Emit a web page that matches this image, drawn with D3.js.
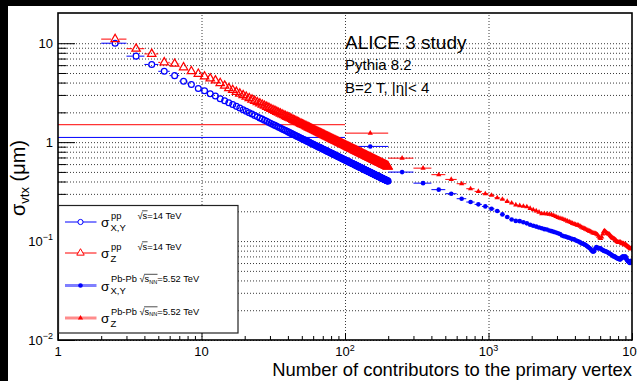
<!DOCTYPE html>
<html>
<head>
<meta charset="utf-8">
<script src="https://cdn.jsdelivr.net/npm/d3@7"></script>
<style>
  html, body { margin: 0; padding: 0; background: #000; }
  svg { display: block; font-family: "Liberation Sans", Arial, Helvetica, sans-serif; }
</style>
</head>
<body>
<svg id="chart" width="637" height="381"></svg>
<script>
// ---- data -------------------------------------------------------------
// pp: integer multiplicity bins [n, n+1), n = 2..199, points at the bin centre
const ppCenters = d3.range(2.5, 200, 1);
const ppSigmaXY = [
  10.0, 7.4, 6.1, 5.2, 4.7, 4.13, 3.83, 3.49, 3.31, 3.08, 2.92, 2.74, 2.62,
  2.507, 2.398, 2.299, 2.210, 2.128, 2.053, 1.985, 1.921, 1.863, 1.808,
  1.757, 1.709, 1.665, 1.623, 1.583, 1.546, 1.510, 1.477, 1.445, 1.415,
  1.387, 1.360, 1.334, 1.308, 1.285, 1.262, 1.240, 1.219, 1.199, 1.180,
  1.161, 1.143, 1.126, 1.109, 1.094, 1.078, 1.063, 1.048, 1.034, 1.021,
  1.007, 0.995, 0.982, 0.970, 0.958, 0.947, 0.936, 0.925, 0.915, 0.905,
  0.895, 0.885, 0.876, 0.867, 0.858, 0.849, 0.841, 0.833, 0.824, 0.816,
  0.809, 0.801, 0.794, 0.786, 0.779, 0.772, 0.765, 0.759, 0.752, 0.746,
  0.740, 0.734, 0.728, 0.722, 0.716, 0.710, 0.705, 0.699, 0.694, 0.688,
  0.683, 0.678, 0.673, 0.668, 0.664, 0.659, 0.654, 0.650, 0.645, 0.641,
  0.636, 0.632, 0.628, 0.624, 0.620, 0.616, 0.612, 0.608, 0.604, 0.600,
  0.596, 0.593, 0.589, 0.586, 0.582, 0.579, 0.575, 0.572, 0.569, 0.565,
  0.562, 0.559, 0.556, 0.553, 0.550, 0.547, 0.544, 0.541, 0.538, 0.535,
  0.532, 0.529, 0.527, 0.524, 0.521, 0.519, 0.516, 0.513, 0.511, 0.508,
  0.506, 0.503, 0.501, 0.498, 0.496, 0.494, 0.491, 0.489, 0.487, 0.484,
  0.482, 0.480, 0.478, 0.476, 0.473, 0.471, 0.469, 0.467, 0.465, 0.463,
  0.461, 0.459, 0.457, 0.455, 0.453, 0.452, 0.450, 0.448, 0.446, 0.444,
  0.442, 0.441, 0.439, 0.437, 0.435, 0.434, 0.432, 0.430, 0.428, 0.427,
  0.425, 0.423, 0.422, 0.420, 0.419, 0.417, 0.416, 0.414, 0.412, 0.411,
  0.409, 0.408, 0.406, 0.405, 0.404
];
const ppSigmaZ = [
  11.0, 8.8, 7.8, 6.4, 6.2, 5.7, 5.2, 4.9, 4.6, 4.4, 4.2, 3.95, 3.72,
  3.51, 3.36, 3.22, 3.09, 2.98, 2.87, 2.78, 2.69, 2.61, 2.53,
  2.46, 2.39, 2.33, 2.27, 2.22, 2.16, 2.11, 2.07, 2.02, 1.98,
  1.94, 1.90, 1.87, 1.83, 1.80, 1.77, 1.74, 1.71, 1.68, 1.65,
  1.63, 1.60, 1.58, 1.55, 1.53, 1.51, 1.49, 1.47, 1.45, 1.43,
  1.41, 1.393, 1.375, 1.358, 1.341, 1.326, 1.310, 1.295, 1.281, 1.267,
  1.253, 1.239, 1.226, 1.214, 1.201, 1.189, 1.177, 1.166, 1.154, 1.142,
  1.133, 1.121, 1.112, 1.100, 1.091, 1.081, 1.071, 1.063, 1.053, 1.044,
  1.036, 1.028, 1.019, 1.011, 1.002, 0.994, 0.987, 0.979, 0.972, 0.963,
  0.956, 0.949, 0.942, 0.935, 0.930, 0.923, 0.916, 0.910, 0.903, 0.897,
  0.890, 0.885, 0.879, 0.874, 0.868, 0.862, 0.857, 0.851, 0.846, 0.840,
  0.834, 0.830, 0.825, 0.820, 0.815, 0.811, 0.805, 0.801, 0.797, 0.791,
  0.787, 0.783, 0.778, 0.774, 0.770, 0.766, 0.762, 0.757, 0.753, 0.749,
  0.745, 0.741, 0.738, 0.734, 0.729, 0.727, 0.722, 0.718, 0.715, 0.711,
  0.708, 0.704, 0.701, 0.697, 0.694, 0.692, 0.687, 0.685, 0.682, 0.678,
  0.675, 0.672, 0.669, 0.666, 0.662, 0.659, 0.657, 0.654, 0.651, 0.648,
  0.645, 0.643, 0.640, 0.637, 0.634, 0.633, 0.630, 0.627, 0.624, 0.622,
  0.619, 0.617, 0.615, 0.612, 0.609, 0.608, 0.605, 0.602, 0.599, 0.598,
  0.595, 0.592, 0.591, 0.588, 0.587, 0.584, 0.582, 0.580, 0.577, 0.575,
  0.573, 0.571, 0.568, 0.567, 0.566
];

// Pb-Pb: bins of width 100 in multiplicity, points at the bin centre
const pbCenters = d3.range(50, 10000, 100);
const pbHalfWidth = 50;
const pbSigmaXY = [
  1.116,
  0.905, 0.498, 0.385, 0.331, 0.301, 0.268, 0.248, 0.235, 0.224,
  0.212, 0.201, 0.186, 0.175, 0.165, 0.160, 0.159, 0.155, 0.151, 0.146,
  0.143, 0.140, 0.137, 0.135, 0.132, 0.131, 0.128, 0.126, 0.124, 0.122,
  0.120, 0.118, 0.114, 0.112, 0.111, 0.109, 0.108, 0.106, 0.105, 0.104,
  0.102, 0.100, 0.099, 0.097, 0.095, 0.094, 0.093, 0.091, 0.089, 0.087,
  0.085, 0.083, 0.080, 0.078, 0.079, 0.084, 0.087, 0.085, 0.084, 0.085,
  0.084, 0.082, 0.081, 0.080, 0.079, 0.079, 0.078, 0.077, 0.076, 0.075,
  0.074, 0.073, 0.072, 0.071, 0.070, 0.070, 0.069, 0.068, 0.067, 0.067,
  0.066, 0.066, 0.065, 0.066, 0.068, 0.069, 0.070, 0.069, 0.068, 0.070,
  0.069, 0.066, 0.064, 0.063, 0.062, 0.061, 0.060, 0.061, 0.063, 0.062
];
const pbSigmaZ = [
  1.5,
  1.233, 0.689, 0.546, 0.469, 0.420, 0.380, 0.338, 0.318, 0.301,
  0.290, 0.274, 0.265, 0.252, 0.242, 0.232, 0.228, 0.225, 0.222, 0.214,
  0.207, 0.202, 0.196, 0.189, 0.190, 0.188, 0.187, 0.185, 0.181, 0.177,
  0.173, 0.170, 0.168, 0.165, 0.162, 0.159, 0.157, 0.154, 0.151, 0.149,
  0.147, 0.145, 0.144, 0.141, 0.138, 0.136, 0.134, 0.132, 0.130, 0.128,
  0.126, 0.125, 0.123, 0.121, 0.120, 0.119, 0.118, 0.116, 0.112, 0.108,
  0.106, 0.110, 0.118, 0.125, 0.127, 0.124, 0.121, 0.119, 0.118, 0.117,
  0.114, 0.111, 0.109, 0.107, 0.106, 0.105, 0.103, 0.101, 0.099, 0.098,
  0.097, 0.097, 0.098, 0.097, 0.095, 0.094, 0.095, 0.094, 0.092, 0.093,
  0.092, 0.090, 0.089, 0.088, 0.087, 0.086, 0.085, 0.084, 0.083, 0.085
];

// axis tick labels: [mantissa, exponent]
const xMajorTicks = [1, 10, 100, 1000, 10000];
const xTickLabels = [["1", ""], ["10", ""], ["10", "2"], ["10", "3"], ["10", "4"]];
const yMajorTicks = [0.01, 0.1, 1, 10];
const yTickLabels = [["10", "\u22122"], ["10", "\u22121"], ["1", ""], ["10", ""]];

const titleLines = ["ALICE 3 study", "Pythia 8.2", "B=2 T, |\u03b7|< 4"];
const xTitle = "Number of contributors to the primary vertex";

// ---- layout -----------------------------------------------------------
const frame = { left: 58, right: 632, top: 13, bottom: 340 };
const BLUE = "#0000ff", RED = "#ff0000";

const svg = d3.select("#chart");
svg.append("rect").attr("x", 8).attr("y", 6).attr("width", 629).attr("height", 375).attr("fill", "#fff");

const x = d3.scaleLog().domain([1, 1e4]).range([frame.left, frame.right]);
const y = d3.scaleLog().domain([0.01, 20.2]).range([frame.bottom, frame.top]);

const fw = frame.right - frame.left, fh = frame.bottom - frame.top;

// minor tick values (2..9 per decade) for decades 10^loExp .. 10^hiExp
function minorsLog(loExp, hiExp) {
  const out = [];
  for (let e = loExp; e <= hiExp; e++) for (let k = 2; k <= 9; k++) out.push(k * Math.pow(10, e));
  return out;
}
const yMinor = minorsLog(-2, 0);        // 0.02..9
const yGridVals = yMajorTicks.concat(yMinor);
const xMinor = minorsLog(0, 3);         // 2..9000

// ---- grid -------------------------------------------------------------
const gridH = svg.append("g").attr("transform", `translate(${frame.left},0)`)
  .call(d3.axisLeft(y).tickValues(yGridVals).tickSize(-fw).tickFormat(""));
gridH.select(".domain").remove();
gridH.selectAll("line").attr("stroke", "#3a3a3a").attr("stroke-dasharray", "1,2");

const gridV = svg.append("g").attr("transform", `translate(0,${frame.bottom})`)
  .call(d3.axisBottom(x).tickValues([10, 100, 1000]).tickSize(-fh).tickFormat(""));
gridV.select(".domain").remove();
gridV.selectAll("line").attr("stroke", "#3a3a3a").attr("stroke-dasharray", "1,2");

// ---- axis ticks -------------------------------------------------------
function tickGroup(axis, tr) {
  const g = svg.append("g").attr("transform", tr).call(axis);
  g.select(".domain").remove();
  g.selectAll("line").attr("stroke", "#000").attr("stroke-width", 1);
  return g;
}
tickGroup(d3.axisLeft(y).tickValues(yMajorTicks).tickSize(-17).tickFormat(""), `translate(${frame.left},0)`);
tickGroup(d3.axisLeft(y).tickValues(yMinor).tickSize(-8.6).tickFormat(""), `translate(${frame.left},0)`);
tickGroup(d3.axisBottom(x).tickValues(xMajorTicks).tickSize(-7).tickFormat(""), `translate(0,${frame.bottom})`);
tickGroup(d3.axisBottom(x).tickValues(xMinor).tickSize(-4).tickFormat(""), `translate(0,${frame.bottom})`);

// tick labels with superscript exponents
yMajorTicks.forEach((v, i) => {
  const t = svg.append("text").attr("x", 53).attr("y", y(v) + 4.6)
    .attr("text-anchor", "end").attr("font-size", 13).attr("fill", "#000");
  t.append("tspan").text(yTickLabels[i][0]);
  if (yTickLabels[i][1]) t.append("tspan").attr("font-size", 9).attr("dy", -5.5).text(yTickLabels[i][1]);
});
xMajorTicks.forEach((v, i) => {
  const t = svg.append("text").attr("x", x(v)).attr("y", 356)
    .attr("text-anchor", "middle").attr("font-size", 13).attr("fill", "#000");
  t.append("tspan").text(xTickLabels[i][0]);
  if (xTickLabels[i][1]) t.append("tspan").attr("font-size", 9).attr("dy", -5).text(xTickLabels[i][1]);
});

// ---- data -------------------------------------------------------------
svg.append("defs").append("clipPath").attr("id", "plotClip")
  .append("rect").attr("x", frame.left).attr("y", frame.top).attr("width", fw).attr("height", fh);
const plot = svg.append("g").attr("clip-path", "url(#plotClip)");

const triBig = d3.symbol().type(d3.symbolTriangle).size(30);
const triSmall = d3.symbol().type(d3.symbolTriangle).size(12);

// Pb-Pb: horizontal bin-width bars plus filled markers
function drawPbPb(values, color, kind) {
  const g = plot.append("g");
  const pts = pbCenters.map((c, i) => ({ c, v: values[i] }));
  g.selectAll("line").data(pts).join("line")
    .attr("x1", d => x(Math.max(d.c - pbHalfWidth, 1)))
    .attr("x2", d => x(d.c + pbHalfWidth))
    .attr("y1", d => y(d.v)).attr("y2", d => y(d.v))
    .attr("stroke", color).attr("stroke-width", 1);
  if (kind === "circle") {
    g.selectAll("circle").data(pts).join("circle")
      .attr("cx", d => x(d.c)).attr("cy", d => y(d.v)).attr("r", 2.3).attr("fill", color);
  } else {
    g.selectAll("path").data(pts).join("path")
      .attr("d", triSmall).attr("transform", d => `translate(${x(d.c)},${y(d.v)})`).attr("fill", color);
  }
}

// pp: open markers with horizontal bars that stop at the marker edge
function drawPP(values, color, kind) {
  const g = plot.append("g");
  const half = kind === "circle" ? 3.4 : 4;
  const pts = ppCenters.map((c, i) => ({ c, v: values[i] }));
  pts.forEach(d => {
    const cx = x(d.c), cy = y(d.v);
    const lo = x(d.c - 0.5), hi = x(d.c + 0.5);
    if (cx - half > lo) g.append("line").attr("x1", lo).attr("x2", cx - half).attr("y1", cy).attr("y2", cy).attr("stroke", color);
    if (hi > cx + half) g.append("line").attr("x1", cx + half).attr("x2", hi).attr("y1", cy).attr("y2", cy).attr("stroke", color);
  });
  if (kind === "circle") {
    g.selectAll("circle").data(pts).join("circle")
      .attr("cx", d => x(d.c)).attr("cy", d => y(d.v)).attr("r", 2.9)
      .attr("fill", "none").attr("stroke", color).attr("stroke-width", 1.25);
  } else {
    g.selectAll("path.m").data(pts).join("path").attr("class", "m")
      .attr("d", triBig).attr("transform", d => `translate(${x(d.c)},${y(d.v)})`)
      .attr("fill", "none").attr("stroke", color).attr("stroke-width", 1.25);
  }
}

drawPbPb(pbSigmaXY, BLUE, "circle");
drawPbPb(pbSigmaZ, RED, "triangle");
drawPP(ppSigmaXY, BLUE, "circle");
drawPP(ppSigmaZ, RED, "triangle");

// ---- frame ------------------------------------------------------------
svg.append("rect").attr("x", frame.left).attr("y", frame.top).attr("width", fw).attr("height", fh)
  .attr("fill", "none").attr("stroke", "#000").attr("stroke-width", 1.6);

// ---- annotations ------------------------------------------------------
svg.append("text").attr("x", 345).attr("y", 49).attr("font-size", 19).text(titleLines[0]);
svg.append("text").attr("x", 345).attr("y", 69.5).attr("font-size", 15).text(titleLines[1]);
svg.append("text").attr("x", 345).attr("y", 93).attr("font-size", 15).text(titleLines[2]);

svg.append("text").attr("x", 632).attr("y", 376).attr("text-anchor", "end")
  .attr("font-size", 18.4).text(xTitle);

const yt = svg.append("text").attr("transform", "translate(25,140) rotate(-90)")
  .attr("text-anchor", "end").attr("font-size", 20);
yt.append("tspan").text("\u03c3");
yt.append("tspan").attr("font-size", 13).attr("dy", 4).text("vtx");
yt.append("tspan").attr("dy", -4).text(" (\u03bcm)");

// ---- legend -----------------------------------------------------------
const legendEntries = [
  { prefix: "pp", nn: "", suffix: "=14 TeV", sub: "X,Y", color: BLUE, line: BLUE, lw: 1, marker: "openCircle", rootX: 137.5 },
  { prefix: "pp", nn: "", suffix: "=14 TeV", sub: "Z", color: RED, line: RED, lw: 1, marker: "openTriangle", rootX: 137.5 },
  { prefix: "Pb-Pb", nn: "NN", suffix: "=5.52 TeV", sub: "X,Y", color: BLUE, line: "rgba(0,0,255,0.5)", lw: 3, marker: "circle", rootX: 139.5 },
  { prefix: "Pb-Pb", nn: "NN", suffix: "=5.52 TeV", sub: "Z", color: RED, line: "rgba(255,0,0,0.45)", lw: 3, marker: "triangle", rootX: 139.5 }
];
const legendRows = [222, 253, 285.5, 318];

const lg = svg.append("g");
lg.append("rect").attr("x", 58.5).attr("y", 205.5).attr("width", 179.5).attr("height", 127.5)
  .attr("fill", "#fff").attr("stroke", "#222").attr("stroke-width", 1.2);

legendEntries.forEach((e, i) => {
  const L = legendRows[i];
  lg.append("line").attr("x1", 65).attr("x2", 96.5).attr("y1", L).attr("y2", L)
    .attr("stroke", e.line).attr("stroke-width", e.lw);
  if (e.marker === "openCircle") {
    lg.append("circle").attr("cx", 80.5).attr("cy", L).attr("r", 2.6).attr("fill", "#fff").attr("stroke", e.color);
  } else if (e.marker === "openTriangle") {
    lg.append("path").attr("d", d3.symbol().type(d3.symbolTriangle).size(24))
      .attr("transform", `translate(80.5,${L})`).attr("fill", "#fff").attr("stroke", e.color);
  } else if (e.marker === "circle") {
    lg.append("circle").attr("cx", 80.5).attr("cy", L).attr("r", 2.3).attr("fill", e.color);
  } else {
    lg.append("path").attr("d", triSmall).attr("transform", `translate(80.5,${L})`).attr("fill", e.color);
  }

  lg.append("text").attr("x", 101).attr("y", L + 5).attr("font-size", 13.5).text("\u03c3");
  lg.append("text").attr("x", 110.5).attr("y", L + 8.5).attr("font-size", 9.5).text(e.sub);

  // superscript: collision system, then the energy term
  lg.append("text").attr("x", 111).attr("y", L - 3.5).attr("font-size", 9.3).text(e.prefix);
  const sup = lg.append("text").attr("x", e.rootX).attr("y", L - 3.5).attr("font-size", 9.3);
  sup.append("tspan").text("\u221a");
  sup.append("tspan").text("s");
  if (e.nn) sup.append("tspan").attr("font-size", 5.5).attr("dy", 1.5).text(e.nn);
  sup.append("tspan").attr("dy", e.nn ? -1.5 : 0).text(e.suffix);

  // bar over the radicand
  const node = sup.node();
  const sIdx = 1;
  const endIdx = sIdx + e.nn.length;
  try {
    const x0 = node.getStartPositionOfChar(sIdx).x;
    const x1 = node.getEndPositionOfChar(endIdx).x;
    lg.append("line").attr("x1", x0 - 0.5).attr("x2", x1 + 0.3)
      .attr("y1", L - 11.2).attr("y2", L - 11.2).attr("stroke", "#000").attr("stroke-width", 0.7);
  } catch (err) { /* glyph metrics unavailable */ }
});
</script>
</body>
</html>
